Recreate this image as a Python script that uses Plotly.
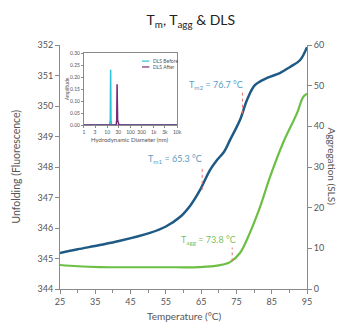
import plotly.graph_objects as go

# ---- data ----
temp_unf = [25, 30, 36.3, 42, 50.5, 55, 59, 62, 64.7, 67.5, 69.5, 71.5, 73.2, 76, 78, 80.3, 83.7, 87.3, 90.2, 93, 95]
unfolding = [345.18, 345.3, 345.44, 345.58, 345.84, 346.05, 346.36, 346.75, 347.25, 347.9, 348.23, 348.5, 348.89, 349.54, 350.2, 350.69, 350.92, 351.08, 351.28, 351.5, 351.93]

temp_agg = [25, 30, 36.3, 45, 55, 64.7, 70, 73.2, 76, 78.8, 81.7, 84.5, 88.2, 92.2, 93.9, 95]
aggregation = [5.9, 5.6, 5.4, 5.35, 5.35, 5.4, 5.8, 6.6, 8.85, 13.8, 20.2, 27.5, 35.9, 43.3, 47.2, 48.0]

tm1, tm2, tagg = 65.3, 76.7, 73.8

dls_diam = [1, 10, 12.5, 13.5, 14, 14.5, 15.5, 20, 24, 25.5, 26.5, 28, 32, 100, 1000, 10000]
dls_before = [0, 0, 0, 0.02, 0.23, 0.02, 0, 0, 0, 0, 0, 0, 0, 0, 0, 0]
dls_after = [0, 0, 0, 0, 0, 0, 0, 0, 0, 0.02, 0.17, 0.02, 0, 0, 0, 0]
dls_names = ["DLS Before", "DLS After"]

x_ticks = [25, 35, 45, 55, 65, 75, 85, 95]
dls_xticks = [1, 3, 10, 30, 100, 300, 1000, 3000, 10000]
dls_xlabels = ["1", "3", "10", "30", "100", "300", "1k", "3k", "10k"]

BLUE = "#1f5a85"
GREEN = "#6cbf45"
CYAN = "#29c4d8"
PURPLE = "#7a2a78"
TXT = "#555555"
AX = "#8a8a8a"
FONT = "Lato"

fig = go.Figure()
fig.add_trace(go.Scatter(x=temp_unf, y=unfolding, mode="lines", line=dict(color=BLUE, width=2.5, shape="spline"),
                         xaxis="x", yaxis="y", showlegend=False))
fig.add_trace(go.Scatter(x=temp_agg, y=aggregation, mode="lines", line=dict(color=GREEN, width=2.2, shape="spline"),
                         xaxis="x", yaxis="y2", showlegend=False))

# inset DLS
fig.add_trace(go.Scatter(x=dls_diam, y=dls_before, mode="lines", name=dls_names[0],
                         line=dict(color=CYAN, width=1.5), xaxis="x3", yaxis="y3", showlegend=False))
fig.add_trace(go.Scatter(x=dls_diam, y=dls_after, mode="lines", name=dls_names[1],
                         line=dict(color=PURPLE, width=1.5), xaxis="x3", yaxis="y3", showlegend=False))

# marker dashed lines
shapes = [
    dict(type="line", xref="x", yref="y", x0=tm1, x1=tm1, y0=347.25, y1=348.0, line=dict(color="#e57373", width=1, dash="dot")),
    dict(type="line", xref="x", yref="y", x0=tm2, x1=tm2, y0=349.75, y1=350.5, line=dict(color="#e57373", width=1, dash="dot")),
    dict(type="line", xref="x", yref="y2", x0=tagg, x1=tagg, y0=6.8, y1=10.2, line=dict(color="#e57373", width=1, dash="dot")),
    # inset legend samples
    dict(type="line", xref="paper", yref="paper", x0=0.332, x1=0.362, y0=0.934, y1=0.934, line=dict(color=CYAN, width=1.2)),
    dict(type="line", xref="paper", yref="paper", x0=0.332, x1=0.362, y0=0.91, y1=0.91, line=dict(color=PURPLE, width=1.2)),
]

annotations = [
    dict(text="T<sub>m1</sub> = 65.3 °C", x=tm1 + 0.4, y=348.25, xref="x", yref="y", xanchor="right", yanchor="middle",
         showarrow=False, font=dict(family=FONT, size=9, color="#5a9cc4")),
    dict(text="T<sub>m2</sub> = 76.7 °C", x=tm2 + 0.8, y=350.7, xref="x", yref="y", xanchor="right", yanchor="middle",
         showarrow=False, font=dict(family=FONT, size=9, color="#5a9cc4")),
    dict(text="T<sub>agg</sub> = 73.8 °C", x=tagg + 1.6, y=12.0, xref="x", yref="y2", xanchor="right", yanchor="middle",
         showarrow=False, font=dict(family=FONT, size=9, color="#7cbf5a")),
    dict(text="Unfolding (Fluorescence)", x=-0.18, y=0.5, xref="paper", yref="paper", textangle=-90, showarrow=False,
         xanchor="center", yanchor="middle", font=dict(family=FONT, size=10.5, color=TXT)),
    dict(text="Aggregation (SLS)", x=1.103, y=0.5, xref="paper", yref="paper", textangle=90, showarrow=False,
         xanchor="center", yanchor="middle", font=dict(family=FONT, size=10, color=TXT)),
    dict(text="Temperature (°C)", x=0.5, y=-0.11, xref="paper", yref="paper", showarrow=False,
         xanchor="center", yanchor="middle", font=dict(family=FONT, size=10, color=TXT)),
    dict(text="Hydrodynamic Diameter (nm)", x=0.285, y=0.612, xref="paper", yref="paper", showarrow=False,
         xanchor="center", yanchor="middle", font=dict(family=FONT, size=6, color=TXT)),
    dict(text="Amplitude", x=0.03, y=0.82, xref="paper", yref="paper", textangle=-90, showarrow=False,
         xanchor="center", yanchor="middle", font=dict(family=FONT, size=5, color=TXT)),
    dict(text=dls_names[0], x=0.368, y=0.934, xref="paper", yref="paper", xanchor="left", yanchor="middle",
         showarrow=False, font=dict(family=FONT, size=5, color=TXT)),
    dict(text=dls_names[1], x=0.368, y=0.91, xref="paper", yref="paper", xanchor="left", yanchor="middle",
         showarrow=False, font=dict(family=FONT, size=5, color=TXT)),
]

fig.update_layout(
    width=345, height=325,
    margin=dict(l=52, r=46, t=37, b=44, autoexpand=False),
    paper_bgcolor="white", plot_bgcolor="white",
    font=dict(family=FONT, color=TXT, size=9),
    title=dict(text="T<sub>m</sub>, T<sub>agg</sub> & DLS", x=0.53, xanchor="center", y=0.963, yanchor="middle",
               font=dict(family=FONT, size=14, color="#222222")),
    xaxis=dict(domain=[0, 1], range=[25, 95], tickvals=x_ticks, ticks="outside", ticklen=4, tickcolor=AX,
               showline=True, linecolor=AX, linewidth=1, showgrid=False, zeroline=False, automargin=False,
               minor=dict(dtick=5, tick0=25, ticks="outside", ticklen=3, tickcolor=AX, showgrid=False),
               tickfont=dict(size=9, color=TXT)),
    yaxis=dict(range=[344, 352], dtick=1, ticks="outside", ticklen=4, tickcolor=AX, showline=True, linecolor=AX,
               showgrid=False, zeroline=False, automargin=False, tickfont=dict(size=9, color=TXT)),
    yaxis2=dict(range=[0, 60], dtick=10, overlaying="y", side="right", anchor="x", ticks="outside", ticklen=4,
                tickcolor=AX, showline=True, linecolor=AX, showgrid=False, zeroline=False, automargin=False,
                tickfont=dict(size=9, color=TXT)),
    xaxis3=dict(domain=[0.097, 0.474], anchor="y3", type="log", range=[0, 4], tickvals=dls_xticks, ticktext=dls_xlabels,
                tickangle=0, ticks="outside", ticklen=2, tickcolor=AX, showline=True, mirror=True, linecolor=AX,
                showgrid=False, zeroline=False, automargin=False, tickfont=dict(size=5, color=TXT)),
    yaxis3=dict(domain=[0.672, 0.967], anchor="x3", range=[0, 0.3], dtick=0.05, tickformat=".2f",
                ticks="outside", ticklen=2, tickcolor=AX, showline=True, mirror=True, linecolor=AX, showgrid=False,
                zeroline=False, automargin=False, tickfont=dict(size=5, color=TXT)),
    showlegend=False,
    shapes=shapes,
    annotations=annotations,
)

fig.write_html("out.html")
